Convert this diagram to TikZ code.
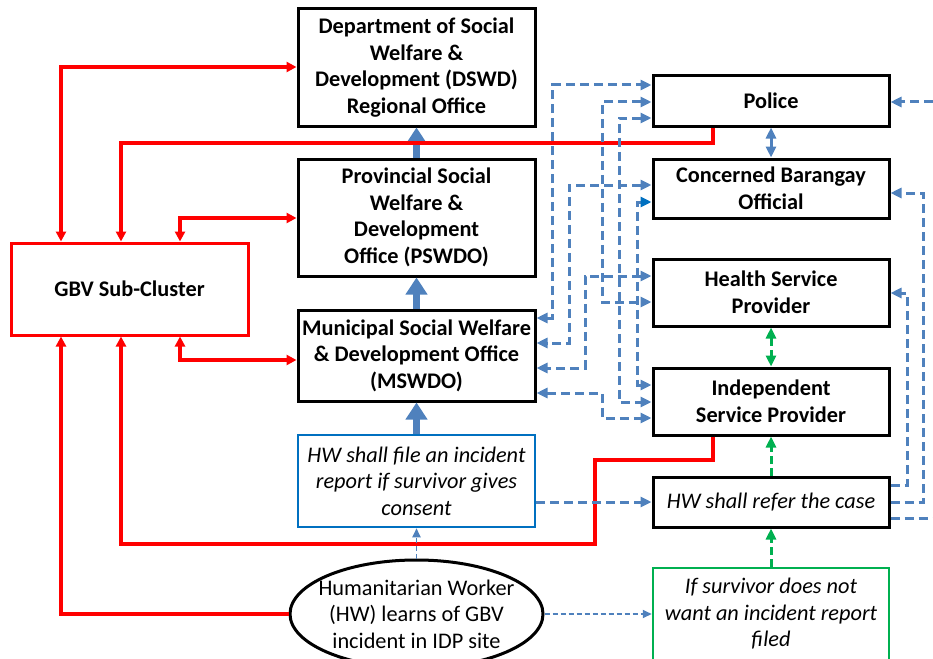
\documentclass[tikz,border=0pt]{standalone}
\usepackage{fontspec}
\setmainfont{Carlito}
\usepackage{xcolor}
\definecolor{ff0000}{HTML}{FF0000}
\definecolor{b4f81bd}{HTML}{4F81BD}
\definecolor{b0070c0}{HTML}{0070C0}
\definecolor{g00b050}{HTML}{00B050}
\usepackage{tikz}
\usetikzlibrary{arrows.meta,shapes.geometric}

\begin{document}
\begin{tikzpicture}[x=1pt, y=-1pt,
    box/.style={draw, line width=3pt, align=center, inner sep=0pt,
        font=\bfseries\fontsize{22.3}{26.5}\selectfont},
    mainbox/.style={box, minimum width=237pt},
    sidebox/.style={box, minimum width=236pt},
    notebox/.style={box, font=\itshape\fontsize{22.3}{26.5}\selectfont},
    redline/.style={draw=ff0000, line width=3.2pt, >={Triangle[length=10pt,width=10pt]}},
    bluedash/.style={draw=b4f81bd, line width=3pt, dash pattern=on 9pt off 5pt,
        >={Triangle[length=11pt,width=10pt]}},
    thindash/.style={draw=b4f81bd, line width=1.8pt, dash pattern=on 5pt off 3pt,
        >={Triangle[length=9pt,width=8pt]}},
    greendash/.style={draw=g00b050, line width=3pt, dash pattern=on 8pt off 4pt,
        >={Triangle[length=11pt,width=10pt]}},
    bigarrow/.style={draw=b4f81bd, line width=7pt, -{Triangle[length=17pt,width=21pt]}}]
                        \useasboundingbox (0,0) rectangle (933,658);

                        % middle column
                        \node (DSWD) at (416.5, 67.5) [mainbox, minimum height=117pt] {Department of Social\\Welfare \&\\Development (DSWD)\\Regional Office};
                        \node (PSWDO) at (416.5, 217.5) [mainbox, minimum height=117pt] {Provincial Social\\Welfare \&\\Development\\Office (PSWDO)};
                        \node (MSWDO) at (416.5, 355.5) [mainbox, minimum height=91pt] {Municipal Social Welfare\\\& Development Office\\(MSWDO)};
                        \node (Report) at (416.5, 481) [notebox, draw=b0070c0, line width=2.5pt, minimum width=237pt, minimum height=92pt] {HW shall file an incident\\report if survivor gives\\consent};
                        \node (HW) at (416.5, 614) [ellipse, draw, line width=3pt, minimum width=253pt, minimum height=108pt, inner xsep=-10pt, inner ysep=-4pt, align=center, font=\fontsize{22.3}{26.5}\selectfont] {Humanitarian Worker\\(HW) learns of GBV\\incident in IDP site};

                        % left
                        \node (GBV) at (129.5, 289) [mainbox, draw=ff0000, line width=3pt, minimum height=92pt] {GBV Sub-Cluster};

                        % right column
                        \node (Police) at (771, 101) [sidebox, minimum height=50pt] {Police};
                        \node (Barangay) at (771, 188.5) [sidebox, minimum height=59pt] {Concerned Barangay\\Official};
                        \node (Health) at (771, 292.5) [sidebox, minimum height=67pt] {Health Service\\Provider};
                        \node (ISP) at (771, 401.5) [sidebox, minimum height=67pt] {Independent\\Service Provider};
                        \node (Refer) at (771, 502) [notebox, minimum width=236pt, minimum height=50pt] {HW shall refer the case};
                        \node (NoReport) at (771, 614) [notebox, draw=g00b050, line width=2.5pt, minimum width=236pt, minimum height=92pt] {If survivor does not\\want an incident report\\filed};

                        \coordinate (offPolice) at (933, 102);
                        \coordinate (offRefer) at (933, 518);

                        % reporting line
                        \draw[bigarrow] (PSWDO) -- (DSWD);
                        \draw[bigarrow] (MSWDO) -- (PSWDO);
                        \draw[bigarrow] (Report) -- (MSWDO);

                        % GBV sub-cluster links
                        \draw[redline, <->] (DSWD.west |- 0,67) -| (GBV.north -| 61,0);
                        \draw[redline, ->] (Police.south -| 713,0) -- (713,143) -| (GBV.north -| 121,0);
                        \draw[redline, <->] (PSWDO.west |- 0,218) -| (GBV.north -| 180,0);
                        \draw[redline, ->] (HW.west) -| (GBV.south -| 61,0);
                        \draw[redline, ->] (ISP.south -| 713,0) -- (713,460) -- (595,460) -- (595,544) -| (GBV.south -| 121,0);
                        \draw[redline, <->] (GBV.south -| 180,0) |- (MSWDO.west |- 0,360);

                        % referral network
                        \draw[bluedash, <->] (MSWDO.east |- 0,318) -- (552,318) |- (Police.west |- 0,85);
                        \draw[bluedash, <->] (Police.west |- 0,102) -- (602,102) |- (Health.west |- 0,302);
                        \draw[bluedash, <->] (Police.west |- 0,118) -- (619,118) |- (ISP.west |- 0,402);
                        \draw[bluedash, <->] (Barangay.west |- 0,185) -- (569,185) |- (MSWDO.east |- 0,343);
                        \draw[bluedash, {Triangle[length=11pt,width=10pt,color=b0070c0]}->] (Barangay.west |- 0,202) -- (637,202) |- (ISP.west |- 0,385);
                        \draw[bluedash, <->] (Health.west |- 0,276) -- (585,276) |- (MSWDO.east |- 0,368);
                        \draw[bluedash, <->] (MSWDO.east |- 0,393) -- (602,393) |- (ISP.west |- 0,418);
                        \draw[bluedash, <->] (Police) -- (Barangay);
                        \draw[bluedash, ->] (Report.east |- Refer.west) -- (Refer.west);

                        % from the right
                        \draw[bluedash, ->] (offPolice) -- (Police.east |- offPolice);
                        \draw[bluedash, ->] (Refer.east |- 0,502) -- (923,502) |- (Barangay.east |- 0,193);
                        \draw[bluedash, ->] (Refer.east |- 0,485) -- (907,485) |- (Health.east |- 0,293);
                        \draw[bluedash] (Refer.east |- offRefer) -- (offRefer);

                        % survivor path
                        \draw[greendash, <->] (Health) -- (ISP);
                        \draw[greendash, ->] (Refer) -- (ISP);
                        \draw[greendash, ->] (NoReport) -- (Refer);
                        \draw[thindash, ->] (HW) -- (Report);
                        \draw[thindash, ->] (HW) -- (NoReport);
                    \end{tikzpicture}
\end{document}
